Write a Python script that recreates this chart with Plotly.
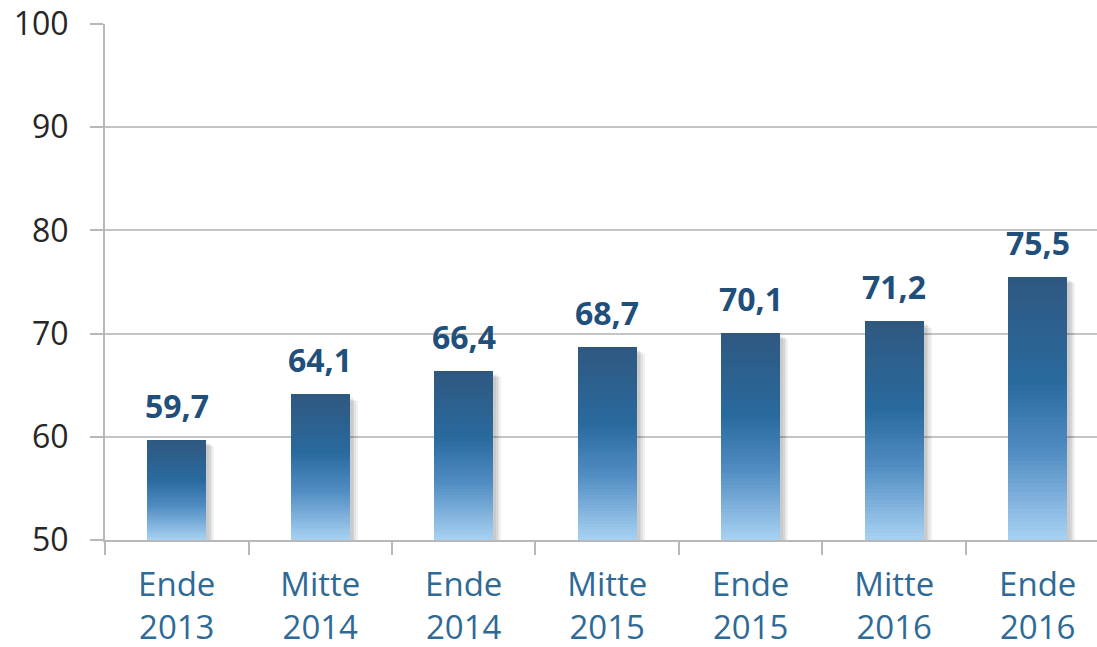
import plotly.graph_objects as go

categories = ["Ende<br>2013", "Mitte<br>2014", "Ende<br>2014", "Mitte<br>2015",
              "Ende<br>2015", "Mitte<br>2016", "Ende<br>2016"]
values = [59.7, 64.1, 66.4, 68.7, 70.1, 71.2, 75.5]
y_ticks = [50, 60, 70, 80, 90, 100]

BASE = 50
N_SEG = 60
BAR_W = 0.41
FONT = "Open Sans"

# gradient stops: position from top (0) to bottom (1)
stops = [(0.0, (47, 88, 128)), (0.4, (41, 106, 158)), (0.66, (80, 140, 194)), (1.0, (168, 210, 243))]


def grad_color(t):
    for (p0, c0), (p1, c1) in zip(stops[:-1], stops[1:]):
        if p0 <= t <= p1:
            f = (t - p0) / (p1 - p0)
            return "rgb(%d,%d,%d)" % tuple(round(a + (b - a) * f) for a, b in zip(c0, c1))
    return "rgb(%d,%d,%d)" % stops[-1][1]


fig = go.Figure()

# soft shadow
for k in range(1, 5):
    fig.add_trace(go.Bar(
        x=categories,
        base=[BASE - 0.12 * k for _ in values],
        y=[v - BASE - 0.15 for v in values],
        width=BAR_W + 0.012 * k,
        offset=-BAR_W / 2 + 0.008,
        marker=dict(color="rgba(0,0,0,0.055)", line=dict(width=0)),
        hoverinfo="skip", showlegend=False,
    ))

# gradient bars built from stacked thin segments
for i in range(N_SEG):
    t_bottom = i / N_SEG
    color = grad_color(1 - (i + 0.5) / N_SEG)
    fig.add_trace(go.Bar(
        x=categories,
        base=[BASE + (v - BASE) * t_bottom for v in values],
        y=[(v - BASE) / N_SEG * (1.5 if i < N_SEG - 1 else 1.0) for v in values],
        width=BAR_W,
        offset=-BAR_W / 2,
        marker=dict(color=color, line=dict(width=0)),
        hoverinfo="skip", showlegend=False,
    ))

for c, v in zip(categories, values):
    fig.add_annotation(
        x=c, y=v, xref="x", yref="y", text=("%.1f" % v).replace(".", ","),
        showarrow=False, yanchor="bottom", yshift=11,
        font=dict(family=FONT, size=32, color="#1f4f7a", weight="bold"),
    )

fig.update_layout(
    width=1097, height=647,
    margin=dict(l=105, r=0, t=24, b=107),
    paper_bgcolor="white", plot_bgcolor="white",
    barmode="overlay", bargap=0,
    showlegend=False,
    font=dict(family=FONT),
)
fig.update_xaxes(
    range=[-0.5, 6.413], automargin=False,
    showline=True, linecolor="#b8b8b8", linewidth=2,
    ticks="outside", tickson="boundaries", ticklen=13, tickcolor="#b8b8b8", tickwidth=2,
    tickfont=dict(family=FONT, size=33, color="#2f6a96"),
    ticklabelstandoff=14, ticklabeloverflow="allow",
    showgrid=False,
)
fig.update_yaxes(
    range=[50, 100], tickvals=y_ticks, automargin=False,
    showline=True, linecolor="#b8b8b8", linewidth=2,
    ticks="outside", ticklen=13, tickcolor="#b8b8b8", tickwidth=2,
    showgrid=True, gridcolor="#c4c4c4", gridwidth=2,
    zeroline=False,
    tickfont=dict(family=FONT, size=32, color="#262626"),
    ticklabelstandoff=15, ticklabeloverflow="allow",
)

fig.write_html(
    "out.html",
    config={"displayModeBar": False},
    post_script="document.body.style.margin='0';document.body.style.overflow='hidden';",
)
